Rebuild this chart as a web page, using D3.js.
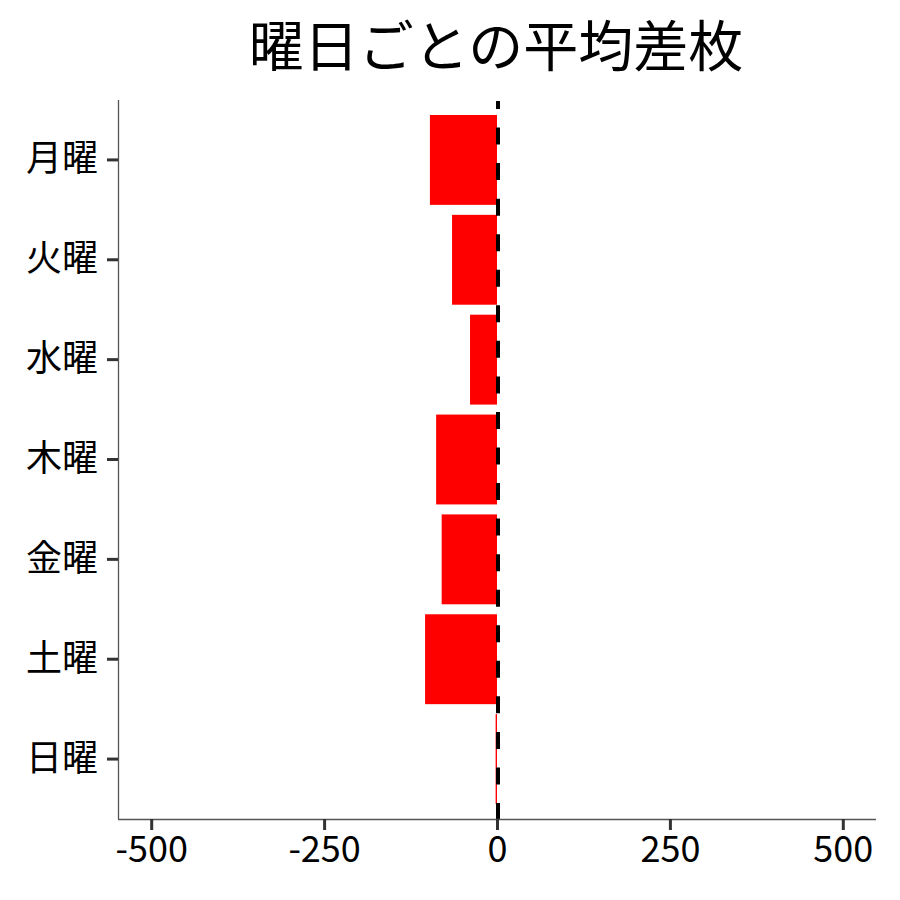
<!DOCTYPE html>
<html><head><meta charset="utf-8">
<script src="https://cdn.jsdelivr.net/npm/d3@7"></script>
<style>body{margin:0;background:#fff}svg{display:block}text{font-family:"Noto Sans CJK JP","Noto Sans",sans-serif}</style>
</head><body><div id="c"></div>
<script>
const categories = ["月曜","火曜","水曜","木曜","金曜","土曜","日曜"];
const values = [-97, -65, -39, -88, -80, -104, -2];
const xTicks = [-500, -250, 0, 250, 500];
const title = "曜日ごとの平均差枚";

const W = 900, H = 900;
const m = {left:118, right:876, top:100, bottom:819};
const svg = d3.select("#c").append("svg").attr("width", W).attr("height", H);

const x = d3.scaleLinear().domain([-548, 548]).range([m.left, m.right]);
const y = d3.scaleBand().domain(categories).range([m.top, m.bottom]).paddingInner(0.1).paddingOuter(0.15);

svg.append("g").selectAll("rect").data(categories).join("rect")
  .attr("x", (d,i) => x(Math.min(0, values[i])))
  .attr("width", (d,i) => Math.abs(x(values[i]) - x(0)))
  .attr("y", d => y(d))
  .attr("height", y.bandwidth())
  .attr("fill", "#FF0000");

svg.append("line")
  .attr("x1", x(0) + 1).attr("x2", x(0) + 1).attr("y1", m.bottom + 1).attr("y2", m.top + 1)
  .attr("stroke", "#000").attr("stroke-width", 4).attr("stroke-dasharray", "17,18.55");

// axes
const xa = svg.append("g").attr("transform", `translate(0,${m.bottom})`)
  .call(d3.axisBottom(x).tickValues(xTicks).tickSize(11).tickPadding(6).tickFormat(d => String(d)));
const ya = svg.append("g").attr("transform", `translate(${m.left},0)`)
  .call(d3.axisLeft(y).tickSize(11).tickPadding(9));
[xa, ya].forEach(g => {
  g.select(".domain").attr("stroke", "#555").attr("stroke-width", 1.3);
  g.selectAll(".tick line").attr("stroke", "#333").attr("stroke-width", 3);
  g.selectAll(".tick text").attr("fill", "#000").style("font-size", "36px")
    .style("font-family", '"Noto Sans CJK JP","Noto Sans",sans-serif');
});
xa.select(".domain").attr("d", `M${m.left},0.5H${m.right}`);
ya.select(".domain").attr("d", `M0.5,${m.top}V${m.bottom}`);

svg.append("text").attr("x", (m.left + m.right)/2 - 1).attr("y", 66)
  .attr("text-anchor", "middle").style("font-size", "55px").attr("fill", "#000").text(title);
</script></body></html>
